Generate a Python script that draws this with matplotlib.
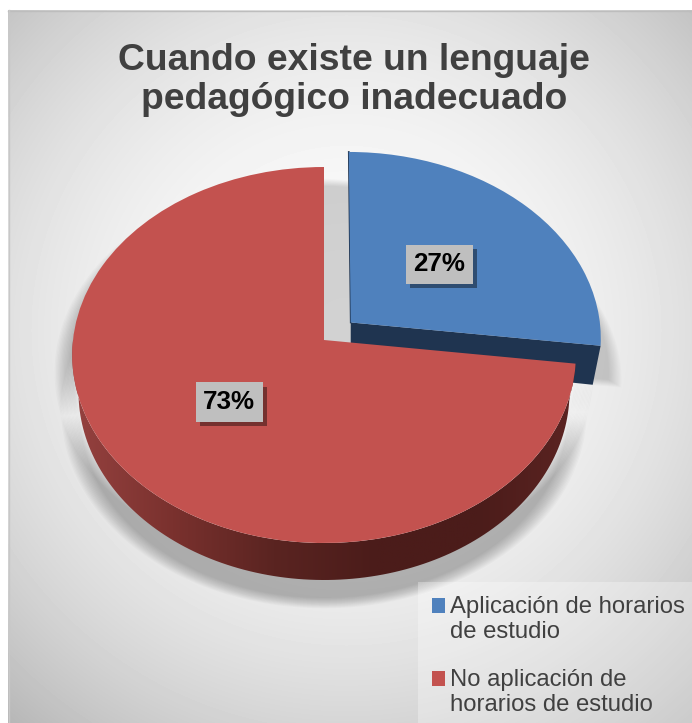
import numpy as np
import matplotlib
matplotlib.use('Agg')
from matplotlib import pyplot as plt
from matplotlib.patches import Polygon
from matplotlib.transforms import Transform
from matplotlib.colors import LinearSegmentedColormap
import matplotlib.patheffects as pe

plt.rcParams['font.family'] = ['Liberation Sans', 'DejaVu Sans']

title = 'Cuando existe un lenguaje\npedagógico inadecuado'
labels = ['Aplicación de horarios\nde estudio', 'No aplicación de\nhorarios de estudio']
values = [27, 73]
explode = [0.143, 0]
colors = ['#4f81bd', '#c3524f']

# apex of the pie on the page and the look of the tilt
CX, CY = 324, 340
RX, RY, PERSP = 251, 186.8, 0.0798
DEPTH = 37


class Tilt(Transform):
    # lays the flat unit pie down in perspective, output is in page pixels
    input_dims = 2
    output_dims = 2

    def transform_non_affine(self, xy):
        xy = np.asarray(xy, dtype=float)
        d = 1 + PERSP * xy[:, 1]
        return np.column_stack((CX + RX * xy[:, 0] / d, CY - RY * xy[:, 1] / d))


def drop(pts):
    # same points on the underside of the pie
    return np.column_stack((CX + (pts[:, 0] - CX) * 0.975, pts[:, 1] + DEPTH))


def grow(pts, sx, sy, dx=0, dy=0):
    mid = (pts.max(axis=0) + pts.min(axis=0)) / 2
    return (pts - mid) * [sx, sy] + mid + [dx, dy]


fig = plt.figure(figsize=(6.92, 7.23), dpi=100)
ax = fig.add_axes([0, 0, 1, 1])

wedges, _, pct = ax.pie(values, explode=explode, colors=colors, startangle=90,
                        counterclock=False, autopct='%.0f%%', pctdistance=0.49,
                        frame=True)
tilt = Tilt()

# outlines of both slices, sampled along the rim
rims = []
for w in wedges:
    t = np.radians(np.linspace(w.theta1, w.theta2, 200))
    c = np.array(w.center)
    rims.append(tilt.transform(np.column_stack((c[0] + np.cos(t), c[1] + np.sin(t)))))
apexes = [tilt.transform(np.array([w.center]))[0] for w in wedges]
blue_rim, red_rim = rims

# page background
yy, xx = np.mgrid[10:723, 8:692]
dist = np.hypot((xx - 346) / 500, (yy - 330) / 500)
bg = np.clip(0.985 - 0.25 * dist ** 2.2, 0, 1)
ax.imshow(bg, cmap='gray', vmin=0, vmax=1, extent=(8, 692, 723, 10), zorder=0,
          interpolation='bilinear')
ax.plot([8, 692], [10.5, 10.5], color='#bdbdbd', lw=1, zorder=0.5)
ax.plot([8.5, 8.5], [10, 723], color='#c8c8c8', lw=1, zorder=0.5)

# soft shadows
red_shape = np.vstack((red_rim, drop(red_rim)[::-1]))
blue_shape = np.vstack((blue_rim, [apexes[0]]))
n = 14
a_red = 1 - 0.74 ** (1 / n)
a_blue = 1 - 0.84 ** (1 / n)
for i in range(n):
    f = i / (n - 1)
    ax.add_patch(Polygon(grow(red_shape, 1.07 - 0.07 * f, 1.05 - 0.05 * f, 0, 18),
                         color='k', alpha=a_red, lw=0, zorder=1))
    ax.add_patch(Polygon(grow(blue_shape, 1.26 - 0.1 * f, 1.08 - 0.08 * f, -12, 34),
                         color='k', alpha=a_blue, lw=0, zorder=1))

# side of the red slice
wall = Polygon(np.vstack((red_rim, drop(red_rim)[::-1])), closed=True, transform=ax.transData,
               fc='none', ec='none', zorder=2.6)
ax.add_patch(wall)
cmap = LinearSegmentedColormap.from_list('side', ['#964240', '#7a312e', '#5a2421', '#4b1c1a',
                                                  '#4b1c1a', '#5c2422'])
img = ax.imshow(np.linspace(0, 1, 256)[None, :], cmap=cmap, extent=(70, 580, 600, 340),
                aspect='auto', zorder=2.6)
img.set_clip_path(wall)

# cut face of the blue slice
rim_end = blue_rim[0]
ax.add_patch(Polygon([apexes[0], rim_end, drop(np.array([rim_end]))[0] + [-1, 2],
                      apexes[0] + [0, DEPTH]], fc='#1f3450', ec='none', zorder=2.5))
ax.plot([apexes[0][0], blue_rim[-1][0]], [apexes[0][1], blue_rim[-1][1]],
        color='#1f3450', lw=1.2, zorder=2.5)

# top faces
for w, z in zip(wedges, [2.7, 3]):
    w.set_transform(tilt + ax.transData)
    w.set_zorder(z)
    w.set_linewidth(0)

for t in pct:
    t.set_transform(tilt + ax.transData)
    t.set_fontsize(18.7)
    t.set_fontweight('bold')
    t.set_color('black')
    t.set_zorder(5)
    t.set_bbox(dict(boxstyle='square,pad=0.3', fc='#bfbfbf', ec='none'))
    t.get_bbox_patch().set_path_effects([
        pe.withSimplePatchShadow(offset=(3, -3), shadow_rgbFace='k', alpha=0.4),
        pe.Normal()])
    t.set_va('center')
    t.set_ha('center')

ax.text(354, 80, title, ha='center', va='center', fontsize=26.8, fontweight='bold',
        color='#404040', linespacing=1.17, zorder=6)

leg = ax.legend(wedges, labels, loc='lower right', bbox_to_anchor=(699, 730),
                bbox_transform=ax.transData, borderaxespad=0, fontsize=17.2,
                frameon=True, fancybox=False, framealpha=0.3, facecolor='white',
                edgecolor='none', labelcolor='#404040', handlelength=0.54,
                handleheight=0.54, handletextpad=0.21, labelspacing=1.08,
                borderpad=0.58)
leg.set_zorder(6)
# squares sit on the first line of each label
for h in leg.legend_handles:
    h.set_y(h.get_y() + 10)

ax.set_aspect('auto')
ax.set_xlim(0, 692)
ax.set_ylim(723, 0)
ax.axis('off')
fig.patch.set_facecolor('white')

plt.savefig('out.png', dpi=100)
